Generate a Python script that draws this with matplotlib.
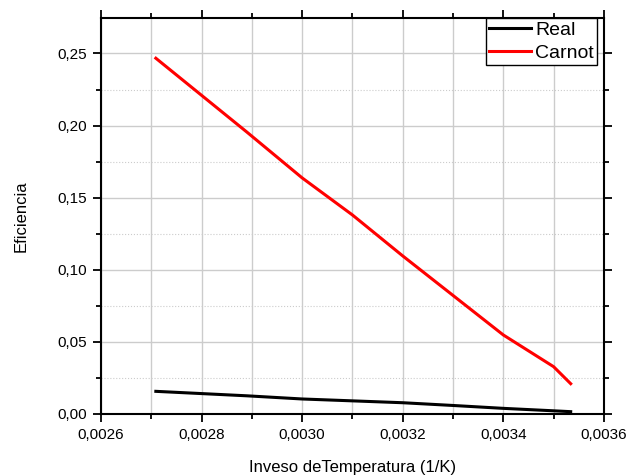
import matplotlib
matplotlib.use("Agg")
import matplotlib.pyplot as plt
from matplotlib.ticker import MultipleLocator, FuncFormatter

plt.rcParams["font.family"] = ["Liberation Sans", "DejaVu Sans"]

inv_temp = [0.002709, 0.00289, 0.00300, 0.00310, 0.00320, 0.00330, 0.00340, 0.00350, 0.003534]
eff_carnot = [0.2467, 0.1955, 0.1637, 0.1380, 0.1096, 0.0822, 0.0548, 0.0328, 0.0210]
eff_real = [0.0157, 0.0126, 0.0104, 0.0091, 0.0078, 0.0059, 0.0039, 0.0022, 0.0016]

fig = plt.figure(figsize=(6.37, 4.76), dpi=100)
ax = fig.add_axes([0.1586, 0.1303, 0.7894, 0.8319])

ax.plot(inv_temp, eff_real, color="black", linewidth=2.2, label="Real", zorder=3)
ax.plot(inv_temp, eff_carnot, color="red", linewidth=2.2, label="Carnot", zorder=3)

ax.set_xlim(0.0026, 0.0036)
ax.set_ylim(0.0, 0.2746)
ax.xaxis.set_major_locator(MultipleLocator(0.0002))
ax.xaxis.set_minor_locator(MultipleLocator(0.0001))
ax.yaxis.set_major_locator(MultipleLocator(0.05))
ax.yaxis.set_minor_locator(MultipleLocator(0.025))
ax.xaxis.set_major_formatter(FuncFormatter(lambda v, p: f"{v:.4f}".replace(".", ",")))
ax.yaxis.set_major_formatter(FuncFormatter(lambda v, p: f"{v:.2f}".replace(".", ",")))

ax.grid(which="major", color="#cccccc", linewidth=1.0)
ax.grid(which="minor", axis="x", color="#cccccc", linewidth=1.0)
ax.grid(which="minor", axis="y", color="#cccccc", linewidth=0.8, linestyle=":")
ax.set_axisbelow(True)

ax.tick_params(which="both", direction="out", top=True, right=True, width=1.3, labelsize=11, pad=4)
ax.tick_params(which="major", length=6)
ax.tick_params(which="minor", length=3.5)
for s in ax.spines.values():
    s.set_linewidth(1.5)

ax.set_xlabel("Inveso deTemperatura (1/K)", fontsize=12, labelpad=13)
ax.set_ylabel("Eficiencia", fontsize=12, labelpad=21)

leg = ax.legend(loc="upper right", fontsize=14, frameon=True, fancybox=False,
                borderaxespad=0.0, borderpad=0.15, handlelength=2.2, handletextpad=0.2,
                labelspacing=0.3, bbox_to_anchor=(0.986, 1.0))
leg.get_frame().set_edgecolor("black")
leg.get_frame().set_linewidth(1.0)
leg.get_frame().set_alpha(1)

fig.savefig("out.png", dpi=100)
